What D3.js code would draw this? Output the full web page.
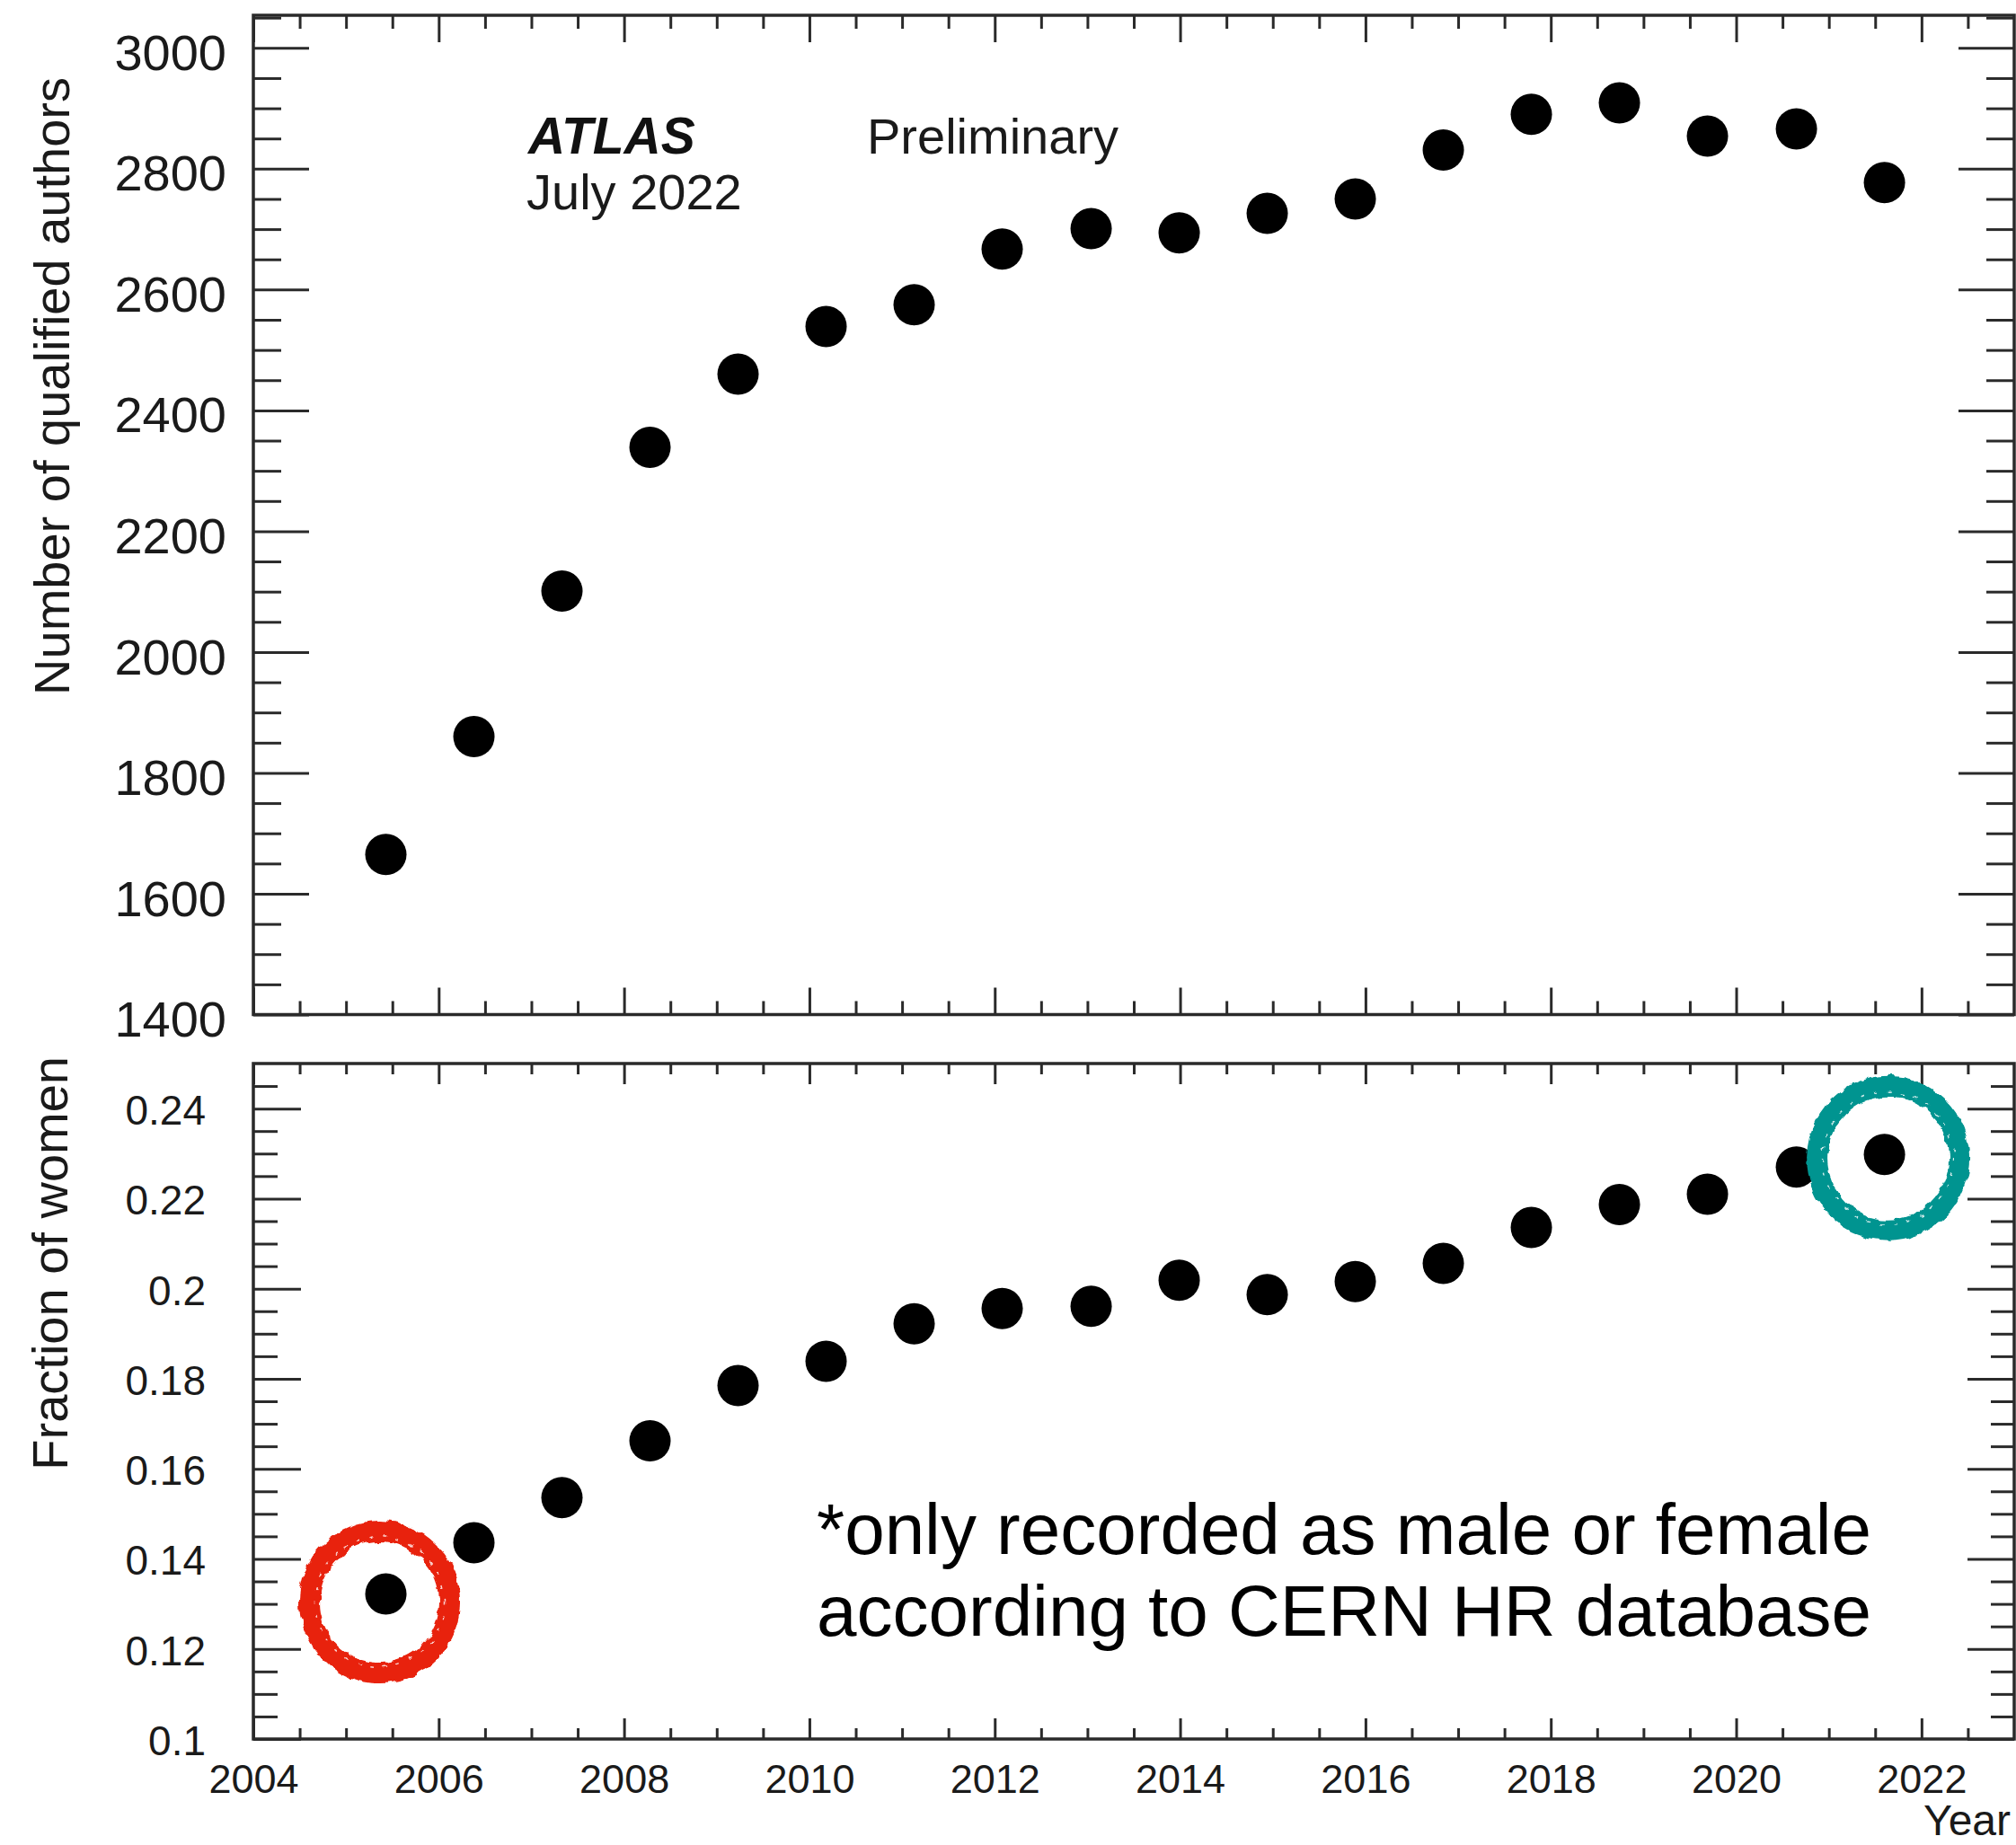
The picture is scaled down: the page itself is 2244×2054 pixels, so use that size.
<!DOCTYPE html>
<html>
<head>
<meta charset="utf-8">
<script src="https://cdn.jsdelivr.net/npm/d3@7"></script>
<style>
  body { margin: 0; background: #fff; }
  svg { display: block; font-family: "Liberation Sans", Arial, Helvetica, sans-serif; }
</style>
</head>
<body>
<svg id="chart" width="2244" height="2054"></svg>
<script>
'use strict';

// values (July 2022)
const years = [2005.43, 2006.38, 2007.33, 2008.28, 2009.23, 2010.18, 2011.13, 2012.08, 2013.04,
               2013.99, 2014.94, 2015.89, 2016.84, 2017.79, 2018.74, 2019.69, 2020.65, 2021.60];
const authors = [1665, 1860, 2101, 2339, 2460, 2539, 2575, 2667, 2701,
                 2694, 2726, 2750, 2831, 2890, 2909, 2854, 2866, 2777];
const womenFraction = [0.1322, 0.1436, 0.1536, 0.1662, 0.1785, 0.1839, 0.1922, 0.1956, 0.1961,
                       0.2019, 0.1987, 0.2016, 0.2056, 0.2136, 0.2187, 0.2210, 0.2270, 0.2298];

const yearTicks = [2004, 2006, 2008, 2010, 2012, 2014, 2016, 2018, 2020, 2022];
const yearLabels = ["2004", "2006", "2008", "2010", "2012", "2014", "2016", "2018", "2020", "2022"];
const authorTicks = [1400, 1600, 1800, 2000, 2200, 2400, 2600, 2800, 3000];
const authorLabels = ["1400", "1600", "1800", "2000", "2200", "2400", "2600", "2800", "3000"];
const fractionTicks = [0.10, 0.12, 0.14, 0.16, 0.18, 0.20, 0.22, 0.24];
const fractionLabels = ["0.1", "0.12", "0.14", "0.16", "0.18", "0.2", "0.22", "0.24"];

// minor ticks (ROOT style, 4 divisions between majors)
const yearMinor = d3.range(2004.5, 2023, 0.5).filter(v => v % 2 !== 0);
const authorMinor = d3.range(1450, 3051, 50).filter(v => v % 200 !== 0);
const fractionMinor = d3.range(105, 246, 5).filter(v => v % 20 !== 0).map(v => v / 1000);

const svg = d3.select("#chart");
svg.append("rect").attr("width", 2244).attr("height", 2054).attr("fill", "#fff");

const left = 282, right = 2242;
const top1 = 17, bottom1 = 1129.5;
const top2 = 1184, bottom2 = 1936;
const tickColor = "#2a2a2a";

const x = d3.scaleLinear().domain([2004, 2023]).range([left, right]);
const yTop = d3.scaleLinear().domain([1400, 3054]).range([bottom1, top1]);
const yBot = d3.scaleLinear().domain([0.10, 0.25]).range([bottom2, top2]);

function addAxis(axis, tx, ty, fontSize) {
  const g = svg.append("g").attr("transform", "translate(" + tx + "," + ty + ")").call(axis);
  g.select(".domain").remove();
  g.selectAll(".tick line").attr("stroke", tickColor).attr("stroke-width", 3);
  g.selectAll(".tick text")
      .attr("fill", "#1a1a1a")
      .attr("font-size", fontSize)
      .attr("font-family", "'Liberation Sans', Arial, Helvetica, sans-serif");
  return g;
}

function labelFrom(ticks, labels) {
  return d => labels[ticks.indexOf(d)];
}

// ---------- top panel ----------
addAxis(d3.axisLeft(yTop).tickValues(authorTicks).tickSizeInner(-62).tickSizeOuter(0)
          .tickPadding(30).tickFormat(labelFrom(authorTicks, authorLabels)), left, 0, 56)
  .selectAll(".tick text").attr("dy", "0.43em");
addAxis(d3.axisLeft(yTop).tickValues(authorMinor).tickSizeInner(-31).tickSizeOuter(0).tickFormat(""), left, 0);
addAxis(d3.axisRight(yTop).tickValues(authorTicks).tickSizeInner(-62).tickSizeOuter(0).tickFormat(""), right, 0);
addAxis(d3.axisRight(yTop).tickValues(authorMinor).tickSizeInner(-31).tickSizeOuter(0).tickFormat(""), right, 0);
addAxis(d3.axisBottom(x).tickValues(yearTicks).tickSizeInner(-30).tickSizeOuter(0).tickFormat(""), 0, bottom1);
addAxis(d3.axisBottom(x).tickValues(yearMinor).tickSizeInner(-15).tickSizeOuter(0).tickFormat(""), 0, bottom1);
addAxis(d3.axisTop(x).tickValues(yearTicks).tickSizeInner(-30).tickSizeOuter(0).tickFormat(""), 0, top1);
addAxis(d3.axisTop(x).tickValues(yearMinor).tickSizeInner(-15).tickSizeOuter(0).tickFormat(""), 0, top1);

// ---------- bottom panel ----------
addAxis(d3.axisLeft(yBot).tickValues(fractionTicks).tickSizeInner(-53).tickSizeOuter(0)
          .tickPadding(53).tickFormat(labelFrom(fractionTicks, fractionLabels)), left, 0, 46)
  .selectAll(".tick text").attr("dy", "0.38em");
addAxis(d3.axisLeft(yBot).tickValues(fractionMinor).tickSizeInner(-27).tickSizeOuter(0).tickFormat(""), left, 0);
addAxis(d3.axisRight(yBot).tickValues(fractionTicks).tickSizeInner(-52).tickSizeOuter(0).tickFormat(""), right, 0);
addAxis(d3.axisRight(yBot).tickValues(fractionMinor).tickSizeInner(-26).tickSizeOuter(0).tickFormat(""), right, 0);
addAxis(d3.axisBottom(x).tickValues(yearTicks).tickSizeInner(-23).tickSizeOuter(0)
          .tickPadding(28).tickFormat(labelFrom(yearTicks, yearLabels)), 0, bottom2, 45);
addAxis(d3.axisBottom(x).tickValues(yearMinor).tickSizeInner(-12).tickSizeOuter(0).tickFormat(""), 0, bottom2);
addAxis(d3.axisTop(x).tickValues(yearTicks).tickSizeInner(-23).tickSizeOuter(0).tickFormat(""), 0, top2);
addAxis(d3.axisTop(x).tickValues(yearMinor).tickSizeInner(-12).tickSizeOuter(0).tickFormat(""), 0, top2);

// frames
[[top1, bottom1], [top2, bottom2]].forEach(function(p) {
  svg.append("rect")
      .attr("x", left).attr("y", p[0])
      .attr("width", right - left).attr("height", p[1] - p[0])
      .attr("fill", "none").attr("stroke", tickColor).attr("stroke-width", 3.5);
});

// points
svg.append("g").selectAll("circle")
    .data(years)
    .join("circle")
    .attr("cx", d => x(d))
    .attr("cy", (d, i) => yTop(authors[i]))
    .attr("r", 23)
    .attr("fill", "#000");

svg.append("g").selectAll("circle")
    .data(years)
    .join("circle")
    .attr("cx", d => x(d))
    .attr("cy", (d, i) => yBot(womenFraction[i]))
    .attr("r", 23)
    .attr("fill", "#000");

// axis titles
svg.append("text")
    .attr("transform", "translate(77,86) rotate(-90)")
    .attr("text-anchor", "end")
    .attr("font-size", 56)
    .attr("fill", "#1a1a1a")
    .text("Number of qualified authors");

svg.append("text")
    .attr("transform", "translate(75,1176) rotate(-90)")
    .attr("text-anchor", "end")
    .attr("font-size", 56)
    .attr("fill", "#1a1a1a")
    .text("Fraction of women");

svg.append("text")
    .attr("x", 2238).attr("y", 2043)
    .attr("text-anchor", "end")
    .attr("font-size", 48)
    .attr("fill", "#1a1a1a")
    .text("Year");

// ATLAS label
svg.append("text")
    .attr("x", 588).attr("y", 171)
    .attr("font-size", 57).attr("font-weight", "bold").attr("font-style", "italic")
    .attr("fill", "#111")
    .text("ATLAS");
svg.append("text")
    .attr("x", 965).attr("y", 171)
    .attr("font-size", 56).attr("fill", "#1a1a1a")
    .text("Preliminary");
svg.append("text")
    .attr("x", 586).attr("y", 233)
    .attr("font-size", 56).attr("fill", "#1a1a1a")
    .text("July 2022");

// footnote
const note = svg.append("text").attr("font-size", 80).attr("fill", "#000");
note.append("tspan").attr("x", 909).attr("y", 1730).text("*only recorded as male or female");
note.append("tspan").attr("x", 909).attr("y", 1821).text("according to CERN HR database");

// hand-drawn highlight rings
const defs = svg.append("defs");
const rough = defs.append("filter").attr("id", "rough")
    .attr("x", "-20%").attr("y", "-20%").attr("width", "140%").attr("height", "140%");
rough.append("feTurbulence").attr("type", "fractalNoise")
    .attr("baseFrequency", 0.08).attr("numOctaves", 2).attr("seed", 4).attr("result", "noise");
rough.append("feDisplacementMap").attr("in", "SourceGraphic").attr("in2", "noise")
    .attr("scale", 8).attr("xChannelSelector", "R").attr("yChannelSelector", "G");

function ring(cx, cy, r, color) {
  const g = svg.append("g").attr("filter", "url(#rough)");
  g.append("ellipse").attr("cx", cx).attr("cy", cy).attr("rx", r).attr("ry", r + 1)
      .attr("fill", "none").attr("stroke", color).attr("stroke-width", 23);
  g.append("ellipse").attr("cx", cx).attr("cy", cy).attr("rx", r - 6).attr("ry", r - 5)
      .attr("fill", "none").attr("stroke", "#fff").attr("stroke-width", 1.5)
      .attr("stroke-dasharray", "4 11").attr("opacity", 0.8);
}

ring(x(years[0]) - 7, yBot(womenFraction[0]) + 9, 78, "#e8220f");
ring(x(years[years.length - 1]) + 4, yBot(womenFraction[womenFraction.length - 1]) + 4, 79, "#009490");
</script>
</body>
</html>
